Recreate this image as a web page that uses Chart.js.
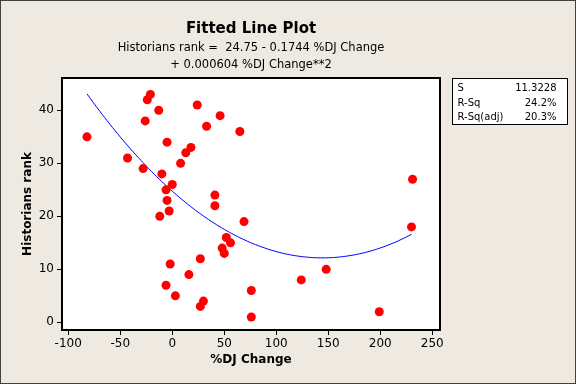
<!DOCTYPE html>
<html>
<head>
<meta charset="utf-8">
<script src="https://cdn.jsdelivr.net/npm/chart.js@4/dist/chart.umd.min.js"></script>
<style>
  html, body { margin: 0; padding: 0; background: #eeeae1; }
  #wrap { width: 576px; height: 384px; }
</style>
</head>
<body>
<div id="wrap"><canvas id="chart" width="576" height="384"></canvas></div>
<script>
// Данные: изменение индекса DJ (%) и рейтинг историков
const djChange = [-82, -43, -28, -26, -24, -21, -13, -10, -5, -6, -5, 0, -12, -3, 8, 13, 18, 24,
  46, 33, 65, 41, 41, 69, 52, 56, 48, 50, 27, 16, 76, 30, 27, 76, 124, 148, 199, 231, 230, -2, -6, 3];
const histRank = [35, 31, 29, 38, 42, 43, 40, 28, 34, 25, 23, 26, 20, 21, 30, 32, 33, 41,
  39, 37, 36, 24, 22, 19, 16, 15, 14, 13, 12, 9, 6, 4, 3, 1, 8, 10, 2, 27, 18, 11, 7, 5];

// Линия регрессии (значения кривой)
const fitX = [-82, -70, -60, -50, -40, -30, -20, -10, 0, 10, 20, 30, 40, 50, 60, 70, 80, 90, 100,
  110, 120, 130, 140, 150, 160, 170, 180, 190, 200, 210, 220, 230];
const fitY = [43.11, 39.92, 37.39, 34.98, 32.69, 30.53, 28.48, 26.55, 24.75, 23.07, 21.50, 20.06,
  18.74, 17.54, 16.46, 15.50, 14.66, 13.95, 13.35, 12.87, 12.52, 12.29, 12.17, 12.18, 12.31, 12.56,
  12.93, 13.42, 14.03, 14.76, 15.62, 16.59];

const xTicks = [-100, -50, 0, 50, 100, 150, 200, 250];
const yTicks = [0, 10, 20, 30, 40];

const statLabels = ['S', 'R-Sq', 'R-Sq(adj)'];
const statValues = ['11.3228', '24.2%', '20.3%'];

const FONT = 'Tahoma, "DejaVu Sans", sans-serif';

// Фон, рамка области графика и рамка окна
const framePlugin = {
  id: 'frame',
  beforeDraw(chart) {
    const { ctx, chartArea: a, width, height } = chart;
    ctx.save();
    ctx.fillStyle = '#eeeae1';
    ctx.fillRect(0, 0, width, height);
    ctx.fillStyle = '#ffffff';
    ctx.fillRect(a.left, a.top, a.right - a.left, a.bottom - a.top);
    ctx.restore();
  },
  afterDraw(chart) {
    const { ctx, chartArea: a, width, height } = chart;
    ctx.save();
    ctx.strokeStyle = '#000';
    ctx.lineWidth = 2;
    ctx.strokeRect(a.left, a.top, a.right - a.left, a.bottom - a.top);
    ctx.lineWidth = 1;
    ctx.strokeStyle = '#404040';
    ctx.strokeRect(0.5, 0.5, width - 1, height - 1);

    // Таблица статистики справа
    const bx = 452.5, by = 78.5, bw = 115, bh = 46;
    ctx.fillStyle = '#fff';
    ctx.fillRect(bx, by, bw, bh);
    ctx.strokeStyle = '#000';
    ctx.strokeRect(bx, by, bw, bh);
    ctx.fillStyle = '#000';
    ctx.font = '10px ' + FONT;
    ctx.textBaseline = 'middle';
    statLabels.forEach((lbl, i) => {
      const y = by + 10 + i * 14.5;
      ctx.textAlign = 'left';
      ctx.fillText(lbl, bx + 5, y);
      ctx.textAlign = 'right';
      ctx.fillText(statValues[i], bx + bw - 11, y);
    });
    ctx.restore();
  }
};

new Chart(document.getElementById('chart'), {
  type: 'scatter',
  data: {
    datasets: [
      {
        label: 'Fit',
        type: 'line',
        data: fitX.map((x, i) => ({ x, y: fitY[i] })),
        borderColor: '#0000ff',
        borderWidth: 1,
        pointRadius: 0,
        tension: 0.4,
        fill: false,
        order: 2
      },
      {
        label: 'Data',
        data: djChange.map((x, i) => ({ x, y: histRank[i] })),
        backgroundColor: '#ff0000',
        borderColor: '#ff0000',
        pointRadius: 4.5,
        pointBorderWidth: 0,
        order: 1
      }
    ]
  },
  options: {
    responsive: false,
    animation: false,
    layout: { padding: { left: 0, right: 136, top: 0, bottom: 0 } },
    scales: {
      x: {
        type: 'linear',
        min: -106,
        max: 257.4,
        afterBuildTicks: s => { s.ticks = xTicks.map(v => ({ value: v })); },
        afterFit: s => { s.height = 54; },
        grid: { drawOnChartArea: false, drawTicks: true, tickLength: 5, color: '#000' },
        border: { display: true, color: '#000', width: 2 },
        ticks: { color: '#000', font: { family: FONT, size: 12 }, padding: 2 },
        title: { display: true, text: '%DJ Change', color: '#000', font: { family: FONT, size: 12, weight: 'bold' }, padding: { top: 0, bottom: 17 } }
      },
      y: {
        type: 'linear',
        min: -1.45,
        max: 46.1,
        afterBuildTicks: s => { s.ticks = yTicks.map(v => ({ value: v })); },
        afterFit: s => { s.width = 62; },
        grid: { drawOnChartArea: false, drawTicks: true, tickLength: 5, color: '#000' },
        border: { display: true, color: '#000', width: 2 },
        ticks: { color: '#000', font: { family: FONT, size: 12 }, padding: 3 },
        title: { display: true, text: 'Historians rank', color: '#000', font: { family: FONT, size: 12, weight: 'bold' }, padding: { top: 21, bottom: 4 } }
      }
    },
    plugins: {
      legend: { display: false },
      tooltip: { enabled: false },
      title: {
        display: true,
        fullSize: false,
        text: 'Fitted Line Plot',
        color: '#000',
        font: { family: FONT, size: 15, weight: 'bold' },
        padding: { top: 20, bottom: 1 }
      },
      subtitle: {
        display: true,
        fullSize: false,
        text: ['Historians rank =  24.75 - 0.1744 %DJ Change', '+ 0.000604 %DJ Change**2'],
        color: '#000',
        font: { family: FONT, size: 11.5, lineHeight: 1.5 },
        padding: { top: 0, bottom: 4.5 }
      }
    }
  },
  plugins: [framePlugin]
});
</script>
</body>
</html>
